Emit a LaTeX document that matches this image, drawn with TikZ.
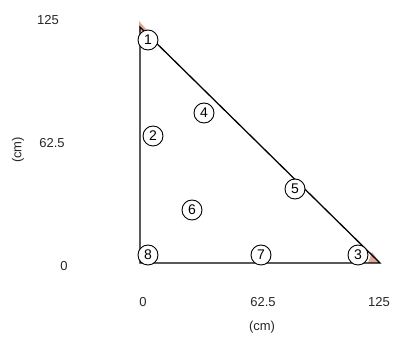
\documentclass[tikz,border=0pt]{standalone}
\usepackage{fontspec}
\setmainfont{Liberation Sans}
\usepackage{xcolor}
\definecolor{supportfill}{RGB}{226,170,150}
\tikzset{
  nodal/.style={circle,draw,fill=white,line width=0.9pt,minimum size=20pt,inner sep=0pt,font=\fontsize{14}{14}\selectfont},
  scalelabel/.style={font=\fontsize{13}{13}\selectfont,text=black!85}
}

\begin{document}
\begin{tikzpicture}[x=1pt,y=1pt]
  \useasboundingbox (0,0) rectangle (394,337);
  % triangle corners
  \coordinate (top) at (140,310);
  \coordinate (origin) at (140,74);
  \coordinate (right) at (380,74);
  % support marks
  \fill[supportfill] (139,316)--(147,307)--(139,305)--cycle;
  \fill[supportfill] (380,74)--(368,74)--(372,85)--cycle;
  \draw[line width=1.3pt] (top)--(origin)--(right)--cycle;
  % nodes
  \foreach \horizontal/\vertical/\num in {148/297/1,153/201/2,358/82/3,204/224/4,295/148/5,192/127/6,261/82/7,148/82/8}
    \node[nodal] (n\num) at (\horizontal,\vertical) {\num};
  % axis values
  \node[scalelabel] (ytop) at (48,317) {125};
  \node[scalelabel] (ymid) at (52,194) {62.5};
  \node[scalelabel] (ybot) at (64,71) {0};
  \node[scalelabel,rotate=90] (yunit) at (18,187) {(cm)};
  \node[scalelabel] (xleft) at (143,35) {0};
  \node[scalelabel] (xmid) at (263,35) {62.5};
  \node[scalelabel] (xright) at (379,35) {125};
  \node[scalelabel] (xunit) at (262,10) {(cm)};
\end{tikzpicture}
\end{document}
